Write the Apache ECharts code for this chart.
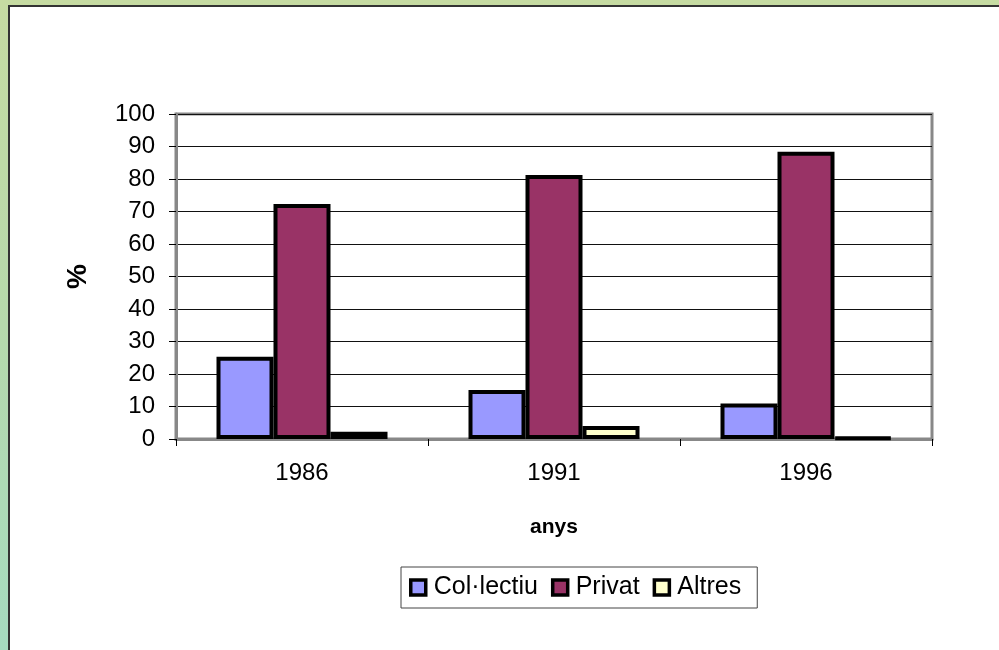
<!DOCTYPE html>
<html>
<head>
<meta charset="utf-8">
<script src="https://cdn.jsdelivr.net/npm/echarts@6/dist/echarts.min.js"></script>
<style>
html,body{margin:0;padding:0;}
#chart{width:999px;height:650px;}
</style>
</head>
<body>
<div id="chart"></div>
<script>
const categories = ['1986', '1991', '1996'];
const colectiu = [25.3, 15.1, 10.9];
const privat = [72.3, 81.2, 88.4];
const altres = [2.2, 4.0, 0.4];
const seriesNames = ['Col·lectiu', 'Privat', 'Altres'];
const yTicks = { min: 0, max: 100, interval: 10 };

const chart = echarts.init(document.getElementById('chart'), null, { renderer: 'canvas' });
const font = "'Liberation Sans', Arial, sans-serif";
const barStyle = (color) => ({ color: color, borderColor: '#000', borderWidth: 4 });

chart.setOption({
  animation: false,
  backgroundColor: {
    type: 'linear', x: 0, y: 0, x2: 0, y2: 1,
    colorStops: [{ offset: 0, color: '#c6dba2' }, { offset: 0.5, color: '#b6d9ac' }, { offset: 1, color: '#a6dbc0' }]
  },
  graphic: [{
    type: 'rect', z: -10, silent: true,
    shape: { x: 9, y: 6, width: 1000, height: 660 },
    style: { fill: '#ffffff', stroke: '#333333', lineWidth: 2 }
  }],
  textStyle: { fontFamily: font, color: '#000' },
  grid: {
    left: 176, top: 114, width: 756, height: 325,
    show: true, borderColor: '#888888', borderWidth: 3, backgroundColor: 'transparent'
  },
  legend: {
    left: 401, top: 567,
    data: seriesNames,
    orient: 'horizontal',
    itemWidth: 15, itemHeight: 15, itemGap: 13,
    padding: [8, 16, 8, 8],
    borderColor: '#444', borderWidth: 1,
    itemStyle: { borderColor: '#000', borderWidth: 3.5 },
    textStyle: { fontFamily: font, fontSize: 25, color: '#000', padding: [0, 0, 0, 3] },
    icon: 'rect'
  },
  xAxis: {
    type: 'category',
    data: categories,
    name: 'anys',
    nameLocation: 'middle',
    nameGap: 78,
    nameTextStyle: { fontFamily: font, fontSize: 21, fontWeight: 'bold', color: '#000' },
    axisLine: { show: true, lineStyle: { color: '#888', width: 3 } },
    axisTick: { show: true, alignWithLabel: false, length: 7, lineStyle: { color: '#000', width: 1 } },
    axisLabel: { margin: 22, fontFamily: font, fontSize: 24, color: '#000' },
    splitLine: { show: false }
  },
  yAxis: {
    type: 'value',
    min: yTicks.min, max: yTicks.max, interval: yTicks.interval,
    name: '%',
    nameLocation: 'middle',
    nameGap: 84,
    nameRotate: 90,
    nameTextStyle: { fontFamily: font, fontSize: 28, fontWeight: 'bold', color: '#000' },
    axisLine: { show: true, lineStyle: { color: '#888', width: 3 } },
    axisTick: { show: true, length: 7, lineStyle: { color: '#000', width: 1 } },
    axisLabel: { margin: 21, fontFamily: font, fontSize: 24, color: '#000' },
    splitLine: { show: true, lineStyle: { color: '#111', width: 1 } }
  },
  series: [
    { name: seriesNames[0], type: 'bar', data: colectiu, barWidth: 57, barGap: '0%', itemStyle: barStyle('#9999ff') },
    { name: seriesNames[1], type: 'bar', data: privat, barWidth: 57, barGap: '0%', itemStyle: barStyle('#993366') },
    { name: seriesNames[2], type: 'bar', data: altres, barWidth: 57, barGap: '0%', itemStyle: barStyle('#ffffcc') }
  ]
});
</script>
</body>
</html>
